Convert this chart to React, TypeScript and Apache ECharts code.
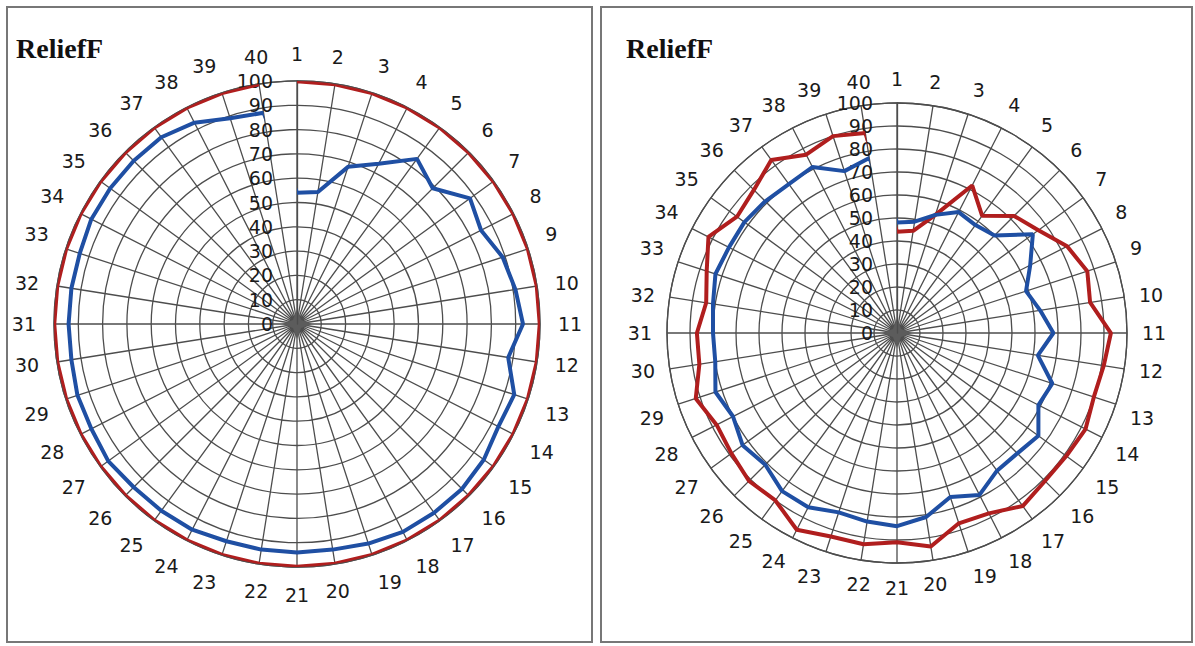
import React, { useEffect, useRef } from "react";
import * as echarts from "echarts";

const categories = Array.from({ length: 40 }, (_, i) => String(i + 1));

const leftRed = [
  100, 100, 100, 100, 100, 100, 100, 100, 100, 100,
  100, 100, 100, 100, 100, 100, 100, 100, 100, 100,
  100, 100, 100, 100, 100, 100, 100, 100, 100, 100,
  100, 100, 100, 100, 100, 100, 100, 100, 100, 100,
];
const leftBlue = [
  54, 55, 68, 74, 84, 79, 88, 85, 89, 91,
  93, 88, 94, 93, 95, 96, 96, 96, 95, 94,
  94, 94, 94, 95, 95, 95, 96, 95, 95, 94,
  94, 94, 94, 95, 95, 95, 95, 93, 89, 88,
];
const rightRed = [
  44, 45, 54, 72, 63, 72, 76, 83, 87, 85,
  93, 91, 90, 92, 91, 91, 93, 88, 87, 94,
  91, 93, 93, 96, 90, 91, 89, 88, 92, 87,
  87, 84, 87, 92, 86, 88, 93, 87, 90, 88,
];
const rightBlue = [
  48, 49, 54, 59, 58, 60, 73, 65, 59, 63,
  68, 62, 71, 69, 76, 74, 74, 79, 75, 81,
  84, 83, 82, 85, 85, 81, 83, 80, 83, 80,
  80, 81, 83, 82, 82, 81, 80, 81, 74, 77,
];
const radiusTicks = [0, 100, 10];
const titleText = "ReliefF";

const RED = "#B01E1E";
const BLUE = "#1F4FA3";
const GRID = "#4d4d4d";
const FONT = "DejaVu Sans";

function closed(vals: number[]) {
  const pts = vals.map((v, i) => [v, i]);
  pts.push([vals[0], 0]);
  return pts;
}

// grid polar: full circles and radial spokes every 360/40 degrees
function gridAngleAxis(idx: number) {
  return {
    polarIndex: idx,
    type: "value",
    min: 0,
    max: 360,
    interval: 360 / categories.length,
    startAngle: 90,
    clockwise: true,
    axisLine: { show: true, lineStyle: { color: GRID, width: 1.3 } },
    axisTick: { show: false },
    axisLabel: { show: false },
    splitLine: { show: true, lineStyle: { color: GRID, width: 1.3 } },
  };
}

function gridRadiusAxis(idx: number) {
  return {
    polarIndex: idx,
    type: "value",
    min: radiusTicks[0],
    max: radiusTicks[1],
    interval: radiusTicks[2],
    axisLine: { show: true, lineStyle: { color: GRID, width: 1.3 } },
    axisTick: { show: false },
    splitLine: { show: true, lineStyle: { color: GRID, width: 1.3 } },
    axisLabel: {
      show: true,
      fontSize: 19,
      color: "#1a1a1a",
      fontFamily: FONT,
      margin: 24,
      showMinLabel: true,
      showMaxLabel: true,
    },
    z: 5,
  };
}

// data polar: category labels only
function dataAngleAxis(idx: number, margin: number) {
  return {
    polarIndex: idx,
    type: "category",
    data: categories,
    boundaryGap: false,
    startAngle: 90,
    clockwise: true,
    axisLine: { show: false },
    axisTick: { show: false },
    splitLine: { show: false },
    axisLabel: { interval: 0, fontSize: 19, color: "#1a1a1a", margin, fontFamily: FONT },
  };
}

function dataRadiusAxis(idx: number) {
  return {
    polarIndex: idx,
    type: "value",
    min: radiusTicks[0],
    max: radiusTicks[1],
    interval: radiusTicks[2],
    axisLine: { show: false },
    axisTick: { show: false },
    splitLine: { show: false },
    axisLabel: { show: false },
  };
}

function line(idx: number, vals: number[], color: string, width: number) {
  return {
    type: "line",
    coordinateSystem: "polar",
    polarIndex: idx,
    data: closed(vals),
    symbol: "none",
    lineStyle: { color, width },
    z: 10,
  };
}

function blob(cx: number, cy: number) {
  return {
    type: "polygon",
    x: cx,
    y: cy,
    shape: {
      points: [
        [0, -15], [4, -4], [15, 0], [4, 4], [0, 15], [-4, 4], [-15, 0], [-4, -4],
      ],
    },
    style: { fill: "#5c5c5c" },
    z: 3,
  };
}

export default function App() {
  const ref = useRef<HTMLDivElement>(null);
  useEffect(() => {
    if (!ref.current) return;
    const chart = echarts.init(ref.current, null, { renderer: "svg" });
    chart.setOption({
      animation: false,
      backgroundColor: "#ffffff",
      polar: [
        { center: [297, 324], radius: 243 },
        { center: [297, 324], radius: 243 },
        { center: [897, 333], radius: 230 },
        { center: [897, 333], radius: 230 },
      ],
      angleAxis: [
        gridAngleAxis(0),
        dataAngleAxis(1, 18),
        gridAngleAxis(2),
        dataAngleAxis(3, 15),
      ],
      radiusAxis: [
        gridRadiusAxis(0),
        dataRadiusAxis(1),
        gridRadiusAxis(2),
        dataRadiusAxis(3),
      ],
      series: [
        line(1, leftRed, RED, 4.5),
        line(1, leftBlue, BLUE, 4),
        line(3, rightRed, RED, 4),
        line(3, rightBlue, BLUE, 4),
      ],
      graphic: [
        {
          type: "rect",
          shape: { x: 7, y: 7, width: 585, height: 635 },
          style: { fill: "none", stroke: "#777", lineWidth: 2 },
          z: 0,
        },
        {
          type: "rect",
          shape: { x: 601, y: 7, width: 591, height: 635 },
          style: { fill: "none", stroke: "#777", lineWidth: 2 },
          z: 0,
        },
        {
          type: "text",
          x: 16,
          y: 48,
          style: {
            text: titleText,
            font: "bold 28px 'Liberation Serif'",
            fill: "#111",
            textVerticalAlign: "middle",
          },
        },
        {
          type: "text",
          x: 626,
          y: 48,
          style: {
            text: titleText,
            font: "bold 28px 'Liberation Serif'",
            fill: "#111",
            textVerticalAlign: "middle",
          },
        },
        blob(297, 324),
        blob(897, 333),
      ],
    });
    return () => chart.dispose();
  }, []);
  return (
    <div
      ref={ref}
      style={{ position: "fixed", left: 0, top: 0, width: 1195, height: 646 }}
    />
  );
}
